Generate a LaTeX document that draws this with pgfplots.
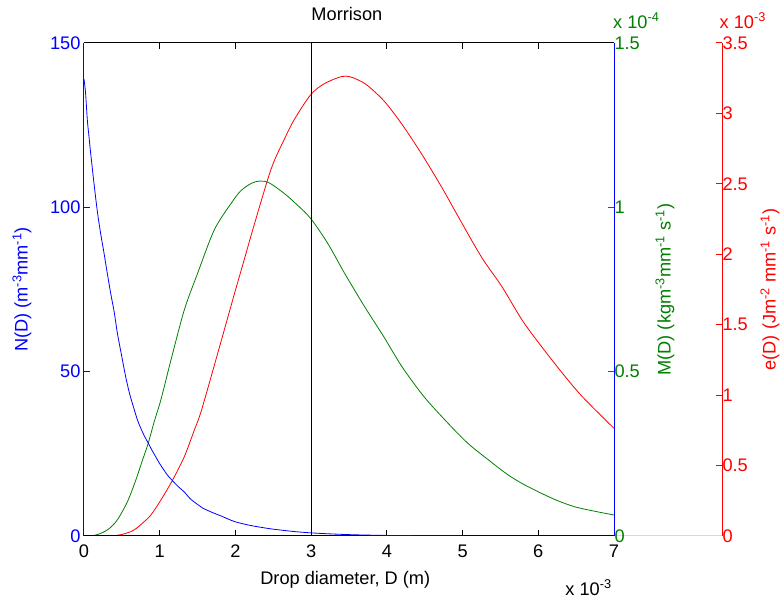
\documentclass[border=0pt]{standalone}
\usepackage{fontspec}
\setmainfont{Liberation Sans}
\usepackage{pgfplots}
\pgfplotsset{compat=1.18}
\definecolor{mblue}{RGB}{0,0,255}
\definecolor{mgreen}{RGB}{0,128,0}
\definecolor{mred}{RGB}{255,0,0}
\definecolor{mgray}{RGB}{215,215,215}
\newcommand{\fs}{\fontsize{18.2}{21}\selectfont}
\pgfplotsset{
  base/.style={scale only axis, height=493pt, ymin=0, clip mode=individual,
    font=\fs, tick label style={font=\fs}, label style={font=\fs},
    /pgf/number format/assume math mode=true, scaled ticks=false,
    tick align=inside, major tick length=6pt,
    axis line style={line width=1pt}, every tick/.style={line width=1pt},
  },
}
\begin{document}
\begin{tikzpicture}
\path[use as bounding box] (-84pt,-65pt) rectangle (700pt,536pt);
% third axis (red)
\begin{axis}[base, width=638pt, xmin=0, xmax=8.42642, ymax=3.5,
  axis x line*=bottom, axis y line*=right,
  x axis line style={mgray, -}, y axis line style={mred, -},
  xtick=\empty, ytick={0,0.5,...,3.5},
  yticklabels={0,0.5,1,1.5,2,2.5,3,3.5},
  y tick style={mred}, yticklabel style={mred, xshift=-3pt},
  ylabel={e(D) (Jm\textsuperscript{-2} mm\textsuperscript{-1} s\textsuperscript{-1})},
  ylabel style={mred, at={(axis description cs:1.075,0.5)}, anchor=center},
]
\node[mred, anchor=base west, inner sep=0pt] at (axis description cs:0.996,1.03) {x 10\textsuperscript{-3}};
\addplot[mred, line width=0.8pt, smooth, tension=0.5] coordinates {
(0,0) (0.3,0) (0.44,0.005) (0.55,0.018) (0.662,0.043) (0.77,0.09) (0.883,0.149)
(1.015,0.255) (1.17,0.397) (1.325,0.563) (1.457,0.752) (1.55,0.89) (1.766,1.297)
(1.987,1.72) (2.11,1.95) (2.24,2.195) (2.42,2.52) (2.51,2.66) (2.64,2.81) (2.77,2.95)
(2.99,3.13) (3.17,3.21) (3.39,3.26) (3.5,3.262) (3.61,3.24) (3.74,3.20) (3.96,3.09)
(4.19,2.93) (4.45,2.72) (4.72,2.48) (4.94,2.27) (5.25,1.98) (5.52,1.77) (5.79,1.53)
(6.05,1.34) (6.32,1.155) (6.58,0.99) (7.0,0.764)
};
\end{axis}
% second axis (green)
\begin{axis}[base, width=530pt, xmin=0, xmax=7, ymax=1.5,
  axis x line=none, axis y line*=right, y axis line style={mgreen, -},
  ytick={0,0.5,1,1.5}, yticklabels={0,0.5,1,1.5},
  y tick style={mgreen}, yticklabel style={mgreen, xshift=-3pt},
  ylabel={M(D) (kgm\textsuperscript{-3}mm\textsuperscript{-1} s\textsuperscript{-1})},
  ylabel style={mgreen, at={(axis description cs:1.096,0.5)}, anchor=center},
]
\node[mgreen, anchor=base west, inner sep=0pt] at (axis description cs:0.998,1.03) {x 10\textsuperscript{-4}};
\addplot[mgreen, line width=0.8pt, smooth, tension=0.5] coordinates {
(0,0) (0.1,0) (0.22,0.008) (0.33,0.022) (0.44,0.049) (0.573,0.104) (0.684,0.17)
(0.773,0.231) (0.848,0.282) (0.93,0.35) (1.015,0.414) (1.148,0.535) (1.325,0.688)
(1.5,0.799) (1.72,0.931) (1.943,1.012) (2.07,1.05) (2.21,1.073) (2.33,1.08)
(2.45,1.074) (2.64,1.043) (2.78,1.015) (2.99,0.967) (3.22,0.89) (3.44,0.80)
(3.70,0.70) (3.96,0.606) (4.2,0.515) (4.49,0.424) (4.8,0.345) (5.07,0.282)
(5.35,0.23) (5.60,0.186) (5.8,0.158) (6.04,0.130) (6.25,0.108) (6.48,0.089)
(6.75,0.075) (7.0,0.064)
};
\end{axis}
% main axis (blue)
\begin{axis}[base, width=530pt, xmin=0, xmax=7, ymax=150,
  separate axis lines, x axis line style={black, -}, y axis line style={mblue, -},
  xtick={0,1,...,7}, xticklabels={0,1,2,3,4,5,6,7}, xtick pos=both,
  ytick={0,50,100,150}, ytick pos=left,
  x tick style={black}, y tick style={mblue},
  xticklabel style={black, yshift=-5pt}, yticklabel style={mblue},
  ylabel={N(D) (m\textsuperscript{-3}mm\textsuperscript{-1})},
  ylabel style={mblue, at={(axis description cs:-0.117,0.5)}, anchor=center},
  xlabel={Drop diameter, D (m)},
  xlabel style={at={(axis description cs:0.493,-0.0994)}, anchor=base},
  title={Morrison},
  title style={at={(axis description cs:0.496,1.0325)}, anchor=base},
]
\node[anchor=base east, inner sep=0pt] at (axis description cs:0.996,-0.12) {x 10\textsuperscript{-3}};
\addplot[mblue, line width=0.8pt, smooth, tension=0.5] coordinates {
(0,139) (0.02,135) (0.044,126.6) (0.066,121.5) (0.088,116.5) (0.132,107.3)
(0.176,98.8) (0.22,92) (0.265,86) (0.3,81) (0.353,73.8) (0.4,68) (0.441,61.7)
(0.5,54.5) (0.55,48.5) (0.6,43.5) (0.65,39.5) (0.706,35.3) (0.75,32.8) (0.8,30.3)
(0.848,28.3) (0.9,26.0) (0.95,24.0) (1.0,22.0) (1.1,18.6) (1.17,16.8) (1.25,14.9)
(1.325,13.4) (1.4,11.4) (1.5,9.6) (1.567,8.5) (1.7,7.1) (1.8,6.2) (1.9,5.2)
(2.0,4.3) (2.2,3.2) (2.43,2.3) (2.6,1.8) (2.8,1.3) (3.0,0.95) (3.2,0.7) (3.4,0.5)
(3.6,0.35) (3.8,0.25) (4.0,0.18) (4.5,0.08) (5.0,0.03) (6.0,0.005) (7.0,0.001)
};
\addplot[black, line width=1pt] coordinates {(3,0) (3,150)};
\end{axis}
\end{tikzpicture}
\end{document}
